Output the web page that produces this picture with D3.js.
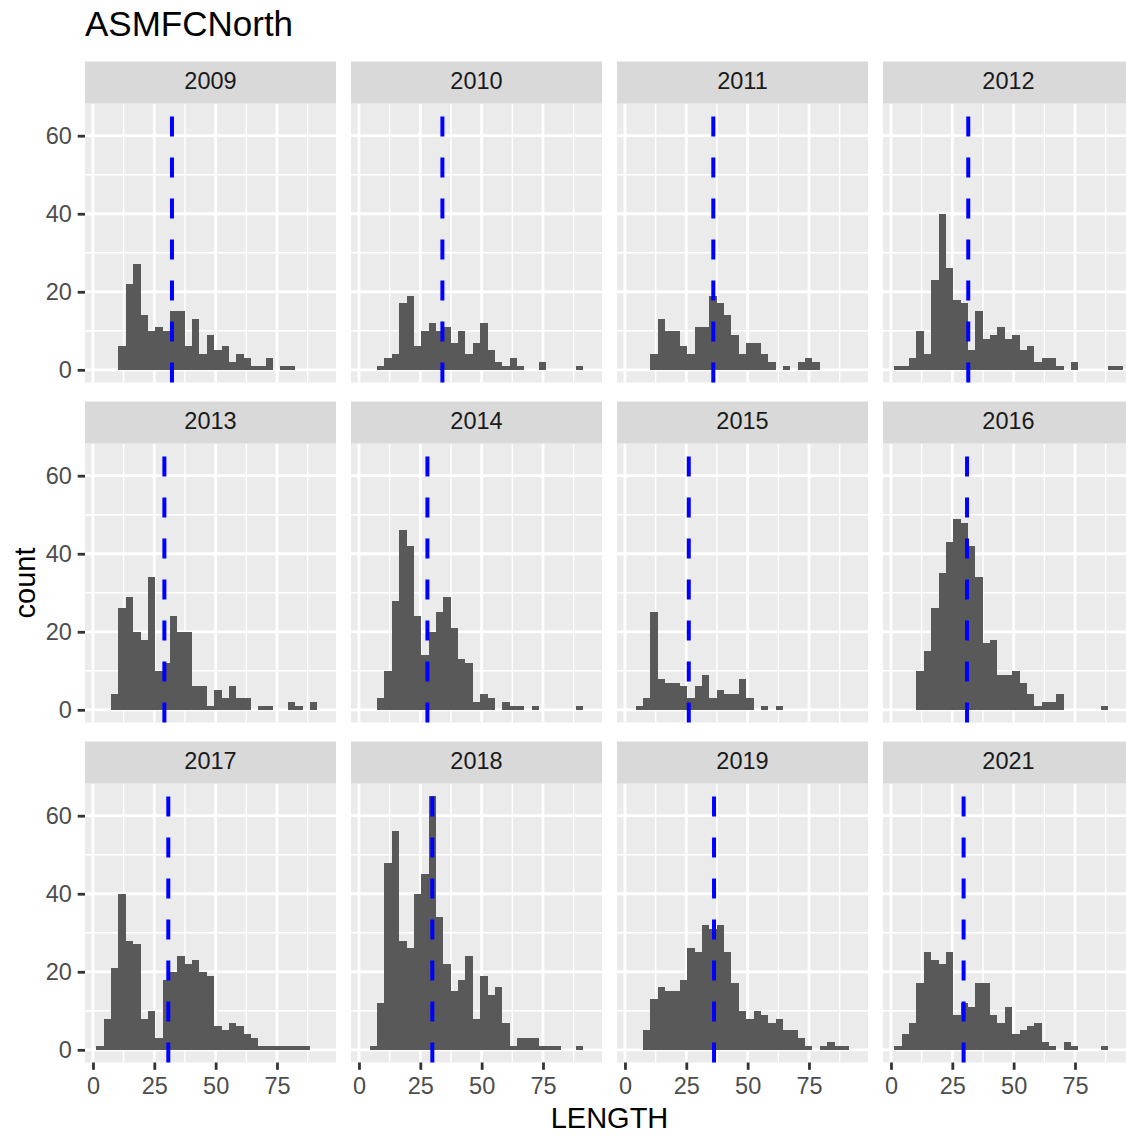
<!DOCTYPE html>
<html>
<head>
<meta charset="utf-8">
<script src="https://cdn.jsdelivr.net/npm/d3@7"></script>
<style>
  body { margin: 0; background: #ffffff; }
  svg text { font-family: "Liberation Sans", Arial, sans-serif; }
</style>
</head>
<body>
<div id="chart"></div>
<script>
//data (31 bins of width 3, first edge at 1.4)
var years = ['2009', '2010', '2011', '2012', '2013', '2014', '2015', '2016', '2017', '2018', '2019', '2021'];
var binStart = 1.4;
var binWidth = 3;

var n2009 = [0,0,0,6,22,27,14,10,11,10,15,15,6,13,4,9,5,6,2,4,3,1,1,3,0,1,1,0,0,0,0];
var n2010 = [0,0,1,3,4,17,19,6,10,12,10,11,7,10,4,7,12,5,2,1,3,1,0,0,2,0,0,0,0,1,0];
var n2011 = [0,0,0,4,13,10,10,6,4,11,11,19,17,14,9,4,7,7,4,2,0,1,0,2,3,2,0,0,0,0,0];
var n2012 = [1,1,3,10,4,23,40,26,18,17,5,15,8,9,11,8,9,5,6,2,3,3,1,0,2,0,0,0,0,1,1];
var n2013 = [0,0,4,26,29,20,18,34,10,12,24,20,20,6,6,1,5,3,6,3,3,0,1,1,0,0,2,1,0,2,0];
var n2014 = [0,0,3,10,28,46,42,24,14,20,25,29,21,13,12,2,4,3,0,2,1,1,0,1,0,0,0,0,0,1,0];
var n2015 = [0,1,3,25,8,7,7,6,3,6,9,3,5,4,4,8,3,0,1,0,1,0,0,0,0,0,0,0,0,0,0];
var n2016 = [0,0,0,10,15,26,35,43,49,48,42,34,17,18,9,9,10,7,4,1,2,2,4,0,0,0,0,0,1,0,0];
var n2017 = [1,8,21,40,28,27,8,10,3,18,20,24,22,23,20,19,6,5,7,6,4,3,1,1,1,1,1,1,1,0,0];
var n2018 = [0,1,12,48,56,28,26,40,45,65,34,22,15,18,24,8,19,14,16,7,1,3,3,3,1,1,1,0,0,1,0];
var n2019 = [0,0,5,13,16,15,15,18,26,25,32,31,32,25,17,10,8,10,9,7,8,5,5,3,1,0,1,2,1,1,0];
var n2021 = [1,4,7,17,25,23,22,25,9,12,11,17,17,9,7,11,4,5,6,7,2,1,0,2,1,0,0,0,1,0,0];

//mean length per year (dashed line)
var yearMeans = [32.2, 34.0, 36.0, 31.5, 29.1, 27.9, 26.0, 31.0, 30.7, 29.9, 36.3, 29.6];

var xTicks = [0, 25, 50, 75];
var xMinor = [12.5, 37.5, 62.5, 87.5];
var yTicks = [0, 20, 40, 60];
var yMinor = [10, 30, 50];

var counts = [n2009, n2010, n2011, n2012, n2013, n2014, n2015, n2016, n2017, n2018, n2019, n2021];

//layout
var width = 1126, height = 1136;
var panelW = 251, panelH = 279, stripH = 42;
var panelLeft = 85, panelTop = 103.5, stepX = 266, stepY = 340;

var binEnd = binStart + binWidth * n2009.length;
var xPad = (binEnd - binStart) * 0.05;
var yMax = d3.max(counts, function(c) { return d3.max(c); });

var x = d3.scaleLinear().domain([binStart - xPad, binEnd + xPad]).range([0, panelW]);
var y = d3.scaleLinear().domain([-yMax * 0.05, yMax * 1.05]).range([panelH, 0]);

var svg = d3.select('#chart').append('svg')
  .attr('width', width)
  .attr('height', height)
  .style('display', 'block');

svg.append('rect').attr('width', width).attr('height', height).attr('fill', '#ffffff');

//title
svg.append('text')
  .attr('x', panelLeft)
  .attr('y', 35.5)
  .attr('fill', '#000')
  .style('font-size', '35px')
  .text('ASMFCNorth');

years.forEach(function(year, i) {
  var col = i % 4, row = Math.floor(i / 4);
  var g = svg.append('g')
    .attr('transform', 'translate(' + (panelLeft + col * stepX) + ',' + (panelTop + row * stepY) + ')');

  //panel background + grid
  g.append('rect').attr('width', panelW).attr('height', panelH).attr('fill', '#EBEBEB');

  g.selectAll('.xminor').data(xMinor).enter().append('line')
    .attr('x1', function(d) { return x(d); }).attr('x2', function(d) { return x(d); })
    .attr('y1', 0).attr('y2', panelH)
    .attr('stroke', '#fff').attr('stroke-width', 1.4);
  g.selectAll('.yminor').data(yMinor).enter().append('line')
    .attr('y1', function(d) { return y(d); }).attr('y2', function(d) { return y(d); })
    .attr('x1', 0).attr('x2', panelW)
    .attr('stroke', '#fff').attr('stroke-width', 1.4);
  g.selectAll('.xmajor').data(xTicks).enter().append('line')
    .attr('x1', function(d) { return x(d); }).attr('x2', function(d) { return x(d); })
    .attr('y1', 0).attr('y2', panelH)
    .attr('stroke', '#fff').attr('stroke-width', 2.8);
  g.selectAll('.ymajor').data(yTicks).enter().append('line')
    .attr('y1', function(d) { return y(d); }).attr('y2', function(d) { return y(d); })
    .attr('x1', 0).attr('x2', panelW)
    .attr('stroke', '#fff').attr('stroke-width', 2.8);

  //histogram bars
  var bins = counts[i].map(function(c, k) {
    return { x0: binStart + k * binWidth, x1: binStart + (k + 1) * binWidth, n: c };
  }).filter(function(d) { return d.n > 0; });

  g.selectAll('.bar').data(bins).enter().append('rect')
    .attr('x', function(d) { return x(d.x0); })
    .attr('width', function(d) { return x(d.x1) - x(d.x0); })
    .attr('y', function(d) { return y(d.n); })
    .attr('height', function(d) { return y(0) - y(d.n); })
    .attr('fill', '#595959')
    .attr('shape-rendering', 'crispEdges');

  //mean line, dashes start at the bottom
  g.append('line')
    .attr('x1', x(yearMeans[i])).attr('x2', x(yearMeans[i]))
    .attr('y1', panelH).attr('y2', 0)
    .attr('stroke', '#0000FF')
    .attr('stroke-width', 4)
    .attr('stroke-dasharray', '20,21');

  //strip
  g.append('rect')
    .attr('y', -stripH).attr('width', panelW).attr('height', stripH)
    .attr('fill', '#D9D9D9');
  g.append('text')
    .attr('x', panelW / 2)
    .attr('y', -stripH / 2 - 2)
    .attr('dy', '0.35em')
    .attr('text-anchor', 'middle')
    .attr('fill', '#1A1A1A')
    .style('font-size', '23.5px')
    .text(year);

  //axes on outer panels only
  if (col === 0) {
    var ya = g.append('g').call(d3.axisLeft(y).tickValues(yTicks).tickSize(7.3).tickPadding(5.8));
    styleAxis(ya);
  }
  if (row === 2) {
    var xa = g.append('g')
      .attr('transform', 'translate(0,' + panelH + ')')
      .call(d3.axisBottom(x).tickValues(xTicks).tickSize(7.3).tickPadding(7.5));
    styleAxis(xa);
  }
});

function styleAxis(a) {
  a.select('.domain').remove();
  a.selectAll('line').attr('stroke', '#333333').attr('stroke-width', 2.8);
  a.selectAll('text').attr('fill', '#4D4D4D').style('font-size', '23.5px');
}

//axis titles
svg.append('text')
  .attr('x', panelLeft + (3 * stepX + panelW) / 2)
  .attr('y', 1127.5)
  .attr('text-anchor', 'middle')
  .attr('fill', '#000')
  .style('font-size', '29px')
  .text('LENGTH');

svg.append('text')
  .attr('transform', 'translate(35,' + (panelTop + (2 * stepY + panelH) / 2) + ') rotate(-90)')
  .attr('text-anchor', 'middle')
  .attr('fill', '#000')
  .style('font-size', '29px')
  .text('count');
</script>
</body>
</html>
